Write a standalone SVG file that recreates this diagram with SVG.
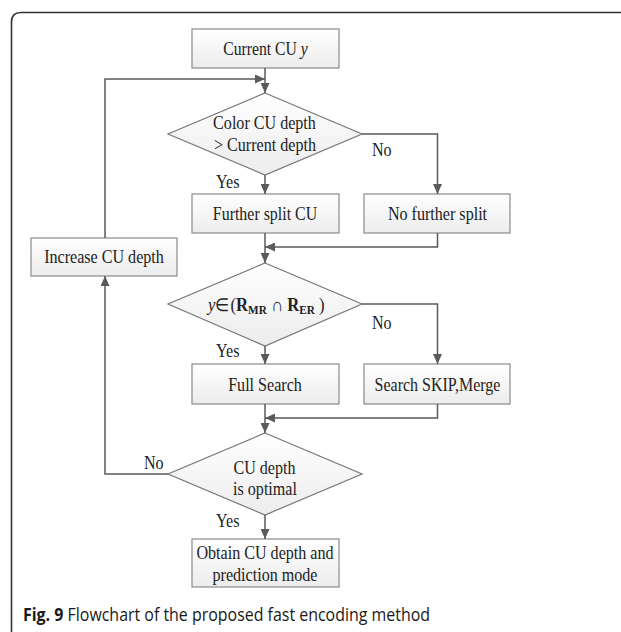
<svg xmlns="http://www.w3.org/2000/svg" width="621" height="632" viewBox="0 0 621 632">
<defs>
<linearGradient id="g" x1="0" y1="0" x2="0" y2="1">
<stop offset="0" stop-color="#ffffff"/>
<stop offset="1" stop-color="#ececec"/>
</linearGradient>
<marker id="arr" markerUnits="userSpaceOnUse" markerWidth="11" markerHeight="9" refX="10" refY="4.5" orient="auto" viewBox="0 0 11 9">
<path d="M0,0 L10,4.5 L0,9 z" fill="#5a5a5a"/>
</marker>
<style>
.box{fill:url(#g);stroke:#8a8a8a;stroke-width:1.2}
.dia{fill:url(#g);stroke:#777;stroke-width:1.2}
.t{font-family:"Liberation Serif","Times New Roman",serif;font-size:18.5px;fill:#222;text-anchor:middle}
.l{font-family:"Liberation Serif","Times New Roman",serif;font-size:18.5px;fill:#222}
.b{font-weight:bold}
.s{font-weight:bold;font-size:12.5px}
.c{fill:none;stroke:#5a5a5a;stroke-width:1.5;marker-end:url(#arr)}
.cap{font-family:"Open Sans","Noto Sans",sans-serif;font-size:17.5px;fill:#1a1a1a}
</style>
</defs>
<rect width="621" height="632" fill="#fff"/>
<path d="M621,12.5 H21 Q11.5,12.5 11.5,22 V632" fill="none" stroke="#333" stroke-width="1.6"/>

<g id="start">
<rect class="box" x="192" y="29" width="147" height="39"/>
<text class="t" transform="translate(265.5,54.5) scale(0.85,1)">Current CU <tspan font-style="italic">y</tspan></text>
</g>
<g id="d1">
<polygon class="dia" points="265,93 362,134 265,175 168,134"/>
<text class="t" transform="translate(264.5,128.5) scale(0.87,1)">Color CU depth</text>
<text class="t" transform="translate(265,151) scale(0.87,1)">&gt; Current depth</text>
</g>
<g id="split">
<rect class="box" x="192" y="194" width="147" height="39"/>
<text class="t" transform="translate(265,220) scale(0.86,1)">Further split CU</text>
</g>
<g id="nosplit">
<rect class="box" x="364" y="194" width="146" height="39"/>
<text class="t" transform="translate(437.5,220) scale(0.87,1)">No further split</text>
</g>
<g id="inc">
<rect class="box" x="31" y="238" width="146" height="38"/>
<text class="t" transform="translate(104,263) scale(0.87,1)">Increase CU depth</text>
</g>
<g id="d2">
<polygon class="dia" points="265,263 362,304 265,346 168,304"/>
<text class="l" transform="translate(208,311) scale(0.9,1)"><tspan font-style="italic">y</tspan>∈(<tspan class="b">R</tspan><tspan class="s" dy="2.5">MR</tspan><tspan dy="-2.5"> ∩ </tspan><tspan class="b">R</tspan><tspan class="s" dy="2.5">ER</tspan><tspan dy="-2.5"> )</tspan></text>
</g>
<g id="full">
<rect class="box" x="192" y="364" width="147" height="40"/>
<text class="t" transform="translate(265,390.5) scale(0.87,1)">Full Search</text>
</g>
<g id="skip">
<rect class="box" x="364" y="364" width="146" height="40"/>
<text class="t" transform="translate(437.5,390.5) scale(0.865,1)">Search SKIP,Merge</text>
</g>
<g id="d3">
<polygon class="dia" points="265,433 362,474 265,515 168,474"/>
<text class="t" transform="translate(264.5,474) scale(0.87,1)">CU depth</text>
<text class="t" transform="translate(265,495) scale(0.87,1)">is optimal</text>
</g>
<g id="end">
<rect class="box" x="192" y="539" width="147" height="48"/>
<text class="t" transform="translate(265,558.5) scale(0.87,1)">Obtain CU depth and</text>
<text class="t" transform="translate(265,581) scale(0.87,1)">prediction mode</text>
</g>

<g id="connectors">
<path class="c" d="M265,68 V93"/>
<path class="c" d="M105,238 V79 H265"/>
<path class="c" d="M265,175 V194"/>
<path class="c" d="M362,134 H437.5 V194"/>
<path class="c" d="M265,233 V263"/>
<path class="c" d="M437.5,233 V247 H265"/>
<path class="c" d="M265,346 V364"/>
<path class="c" d="M362,304 H437.5 V364"/>
<path class="c" d="M265,404 V433"/>
<path class="c" d="M437.5,404 V418 H265"/>
<path class="c" d="M168,474 H105 V276"/>
<path class="c" d="M265,515 V539"/>
<text class="l" transform="translate(372,156) scale(0.87,1)">No</text>
<text class="l" transform="translate(216,188) scale(0.87,1)">Yes</text>
<text class="l" transform="translate(372,329) scale(0.87,1)">No</text>
<text class="l" transform="translate(216,357) scale(0.87,1)">Yes</text>
<text class="l" transform="translate(144,469) scale(0.87,1)">No</text>
<text class="l" transform="translate(216,527) scale(0.87,1)">Yes</text>
</g>

<text class="cap" x="23" y="621" textLength="407" lengthAdjust="spacingAndGlyphs"><tspan font-weight="bold">Fig. 9</tspan> Flowchart of the proposed fast encoding method</text>
</svg>
